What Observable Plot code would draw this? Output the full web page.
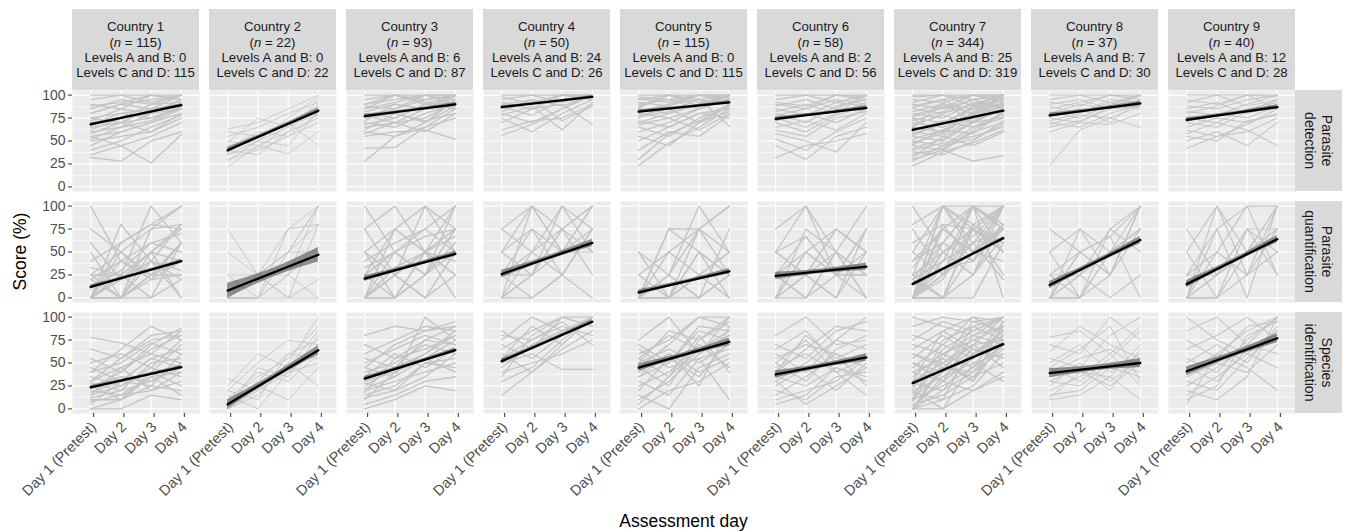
<!DOCTYPE html>
<html><head><meta charset="utf-8">
<script src="https://cdn.jsdelivr.net/npm/d3@7"></script>
<script src="https://cdn.jsdelivr.net/npm/@observablehq/plot@0.6"></script>
<style>
body{margin:0;background:#fff;font-family:"Liberation Sans",Arial,sans-serif;}
#chart svg{display:block;}
</style></head><body><div id="chart"></div>
<script>
const countries = ["Country 1","Country 2","Country 3","Country 4","Country 5","Country 6","Country 7","Country 8","Country 9"];
const nTotal = [115,22,93,50,115,58,344,37,40];
const levelsAB = [0,0,6,24,0,2,25,7,12];
const levelsCD = [115,22,87,26,115,56,319,30,28];
const skills = ["Parasite detection","Parasite quantification","Species identification"];
const skillLines = [["Parasite","detection"],["Parasite","quantification"],["Species","identification"]];
const days = ["Day 1 (Pretest)","Day 2","Day 3","Day 4"];
const yTicks = [0,25,50,75,100];
const yMinor = [12.5,37.5,62.5,87.5];

// fitted line (Day 1 and Day 4) and half-width of confidence band at ends, per skill x country
const fitStart = [
  [68,40,77,87,82,74,62,78,73],
  [12,8,21,26,6,24,15,14,15],
  [23.5,5,33,52,45,37.5,28,39,41]
];
const fitEnd = [
  [89,83,90,98,92,86,83,91,87],
  [40,47,48,60,29,34,65,63,64],
  [45.5,64,64,95,73,56,70.5,50,77]
];
const bandHalf = [
  [1.5,3,2,1.5,2,2.5,1,2.5,2.5],
  [2,8,3,4,3,4,1.5,4,4],
  [2,5,2.5,2.5,4,4,1.5,5,5]
];

// individual trajectories (Day1..Day4), per country
const detection = [
 [[100,100,100,100],[95,100,92,100],[90,85,100,95],[85,95,90,100],[80,90,95,100],[75,80,85,90],[72,85,80,95],[70,75,90,92],[68,80,75,88],[65,70,85,90],[62,75,80,85],[60,65,80,90],[58,70,75,85],[55,60,70,80],[52,65,72,88],[50,55,60,75],[45,60,70,85],[40,50,65,78],[35,45,55,70],[32,28,50,60],[55,45,26,57],[80,90,85,100],[88,92,100,95],[75,70,60,80]],
 [[22,45,60,75],[30,40,55,70],[35,50,65,90],[38,55,70,85],[40,35,60,95],[42,60,55,80],[45,50,75,98],[48,75,65,88],[50,45,36,60],[55,65,80,92],[60,55,70,45],[63,70,85,100],[28,50,45,82],[36,42,68,78]],
 [[100,100,100,100],[95,100,90,100],[90,95,100,95],[88,85,95,100],[85,100,92,95],[82,90,85,100],[80,75,90,92],[78,85,100,90],[75,80,70,95],[72,90,85,88],[70,65,80,90],[68,75,90,85],[65,70,75,92],[62,80,72,80],[60,55,65,85],[58,70,85,100],[55,60,62,52],[42,43,65,75],[28,55,70,88],[90,100,95,98],[85,92,100,100],[78,70,60,80]],
 [[100,100,100,100],[95,100,92,100],[92,85,100,95],[90,95,88,100],[88,78,95,100],[85,92,100,98],[80,70,85,100],[78,88,62,92],[75,60,80,95],[70,85,90,68],[62,72,75,90],[56,68,85,100],[98,90,100,100],[82,95,72,88]],
 [[100,100,100,100],[98,95,100,100],[95,100,92,98],[92,88,100,95],[90,95,85,100],[88,100,95,90],[85,80,90,100],[82,90,100,92],[80,75,85,95],[78,85,70,88],[75,90,95,100],[72,65,80,85],[70,80,90,100],[68,75,62,80],[65,55,75,90],[60,70,85,95],[55,45,70,82],[50,65,80,75],[40,60,55,78],[30,58,72,88],[23,48,65,85],[96,92,100,97],[86,100,88,100],[76,82,96,66]],
 [[100,100,100,100],[95,100,92,100],[90,85,100,95],[88,95,85,100],[85,78,92,88],[82,90,80,100],[80,70,88,95],[78,85,95,90],[75,65,80,92],[72,80,70,85],[70,60,78,88],[65,72,62,80],[62,55,75,82],[58,50,38,70],[52,40,60,75],[45,30,55,65],[32,45,50,58],[92,88,100,98]],
 [[100,100,100,100],[98,100,95,100],[95,92,100,100],[92,100,88,95],[90,85,95,100],[88,95,100,92],[85,80,90,100],[82,90,85,95],[80,75,92,88],[78,88,80,100],[75,70,85,90],[72,82,95,85],[70,65,78,92],[68,78,70,88],[65,60,82,95],[62,72,65,80],[60,55,75,90],[58,68,88,78],[55,50,70,85],[52,62,58,82],[50,45,65,75],[48,58,80,92],[45,40,60,70],[42,52,72,88],[40,48,55,65],[38,35,50,72],[35,42,62,80],[32,55,45,60],[30,40,28,34],[28,45,52,68],[23,38,48,62],[86,95,78,100],[76,86,100,96],[66,80,90,100],[56,70,85,98],[46,62,76,90],[64,92,70,76],[74,58,88,100]],
 [[100,100,100,100],[95,100,92,100],[92,88,100,95],[90,95,85,100],[88,80,95,92],[85,92,100,98],[82,75,90,100],[80,90,85,88],[78,85,70,95],[75,70,88,100],[72,80,92,85],[70,65,80,90],[68,78,75,65],[65,72,85,92],[60,70,68,80],[23,62,75,88]],
 [[100,100,100,100],[95,90,100,98],[92,100,88,95],[88,85,95,100],[85,92,80,90],[82,78,90,100],[80,88,100,85],[75,70,85,92],[72,80,75,88],[70,65,82,95],[65,75,70,80],[62,55,68,85],[58,70,62,45],[55,50,72,78],[50,60,45,70],[42,55,60,75]]
];
const quantification = [
 [[100,40,20,60],[75,50,25,60],[60,20,40,80],[50,0,25,40],[40,60,80,100],[33,25,50,75],[25,0,20,40],[25,50,75,80],[20,0,40,20],[20,40,60,50],[0,20,50,80],[0,0,25,25],[0,25,0,60],[0,0,75,100],[0,20,40,0],[0,50,20,25],[0,0,0,20],[0,60,80,75],[0,25,50,40],[0,40,25,60],[0,0,50,0],[10,30,60,70],[0,80,40,30],[25,25,100,60]],
 [[75,25,0,80],[50,25,50,100],[25,0,75,100],[0,25,50,80],[0,0,25,55],[0,25,0,20],[0,0,50,100],[25,25,25,0],[0,25,75,80],[0,0,0,0],[0,25,50,50],[0,0,25,100]],
 [[100,50,25,75],[75,100,50,100],[75,25,0,50],[50,75,100,75],[50,25,50,25],[50,0,25,60],[40,60,75,100],[33,50,25,75],[25,50,75,50],[25,0,50,75],[25,75,50,25],[0,25,50,75],[0,25,100,50],[0,50,25,100],[0,0,25,50],[0,25,0,25],[0,75,50,40],[0,0,50,67],[25,50,67,75],[0,33,50,0]],
 [[75,100,50,100],[75,50,25,75],[50,100,75,25],[50,25,75,100],[25,50,100,75],[25,75,50,50],[25,0,25,75],[0,25,50,100],[0,50,75,50],[0,0,25,75],[0,25,75,100],[50,75,25,0],[0,100,50,75],[25,25,100,50]],
 [[50,25,0,25],[50,0,25,50],[25,50,75,25],[25,0,50,0],[0,25,100,50],[0,0,75,100],[0,75,50,25],[0,25,0,75],[0,0,25,50],[0,50,25,0],[0,0,0,25],[0,25,75,100],[0,75,75,50],[0,0,50,25]],
 [[50,100,25,75],[75,100,50,25],[50,25,75,50],[25,67,25,0],[25,0,50,100],[0,50,75,50],[0,25,0,75],[25,50,25,25],[0,0,50,25],[50,25,0,50],[0,75,50,0],[25,25,75,50],[0,50,25,25],[25,0,25,75],[0,25,50,0],[50,67,25,50]],
 [[100,50,75,100],[80,100,60,75],[75,25,100,80],[60,80,40,100],[50,100,75,50],[50,25,60,100],[40,60,100,75],[33,75,50,80],[25,100,80,60],[25,50,25,100],[25,0,75,50],[20,60,40,80],[20,40,100,75],[0,25,50,100],[0,50,75,60],[0,75,100,80],[0,100,50,40],[0,25,80,100],[0,0,50,75],[0,40,60,20],[0,50,25,67],[0,20,75,100],[0,60,100,50],[0,0,25,80],[0,80,75,25],[0,25,100,0],[0,0,0,60],[0,50,67,100],[0,33,40,75],[40,75,50,100],[0,100,100,100],[20,0,80,50]],
 [[75,50,25,100],[50,75,25,100],[50,0,50,75],[25,50,67,100],[25,0,25,75],[0,75,50,100],[0,25,75,50],[0,50,25,100],[0,0,50,75],[0,25,0,25],[0,0,75,100],[0,50,67,0],[25,25,50,75]],
 [[75,25,50,100],[50,100,25,75],[25,75,100,100],[50,0,75,75],[0,25,50,100],[0,50,100,25],[0,75,0,100],[0,0,50,75],[25,50,25,100],[0,25,75,50],[0,100,50,75],[0,0,25,50],[25,25,75,25]]
];
const species = [
 [[78,72,60,85],[65,55,75,80],[55,40,70,88],[50,60,45,75],[45,30,55,65],[40,50,72,60],[35,25,40,70],[30,45,60,50],[28,20,50,55],[25,35,30,45],[22,40,65,80],[20,15,35,40],[18,30,25,60],[15,25,45,35],[12,20,30,50],[10,10,40,25],[8,15,20,30],[5,30,55,45],[0,10,25,20],[0,0,15,10],[30,55,80,85],[15,45,20,40],[40,65,90,75],[25,10,35,15]],
 [[33,20,50,100],[25,60,45,85],[20,50,75,70],[15,0,40,65],[10,35,55,90],[5,25,10,45],[0,30,60,55],[0,15,50,25],[0,45,35,80],[20,10,60,75],[0,20,40,50],[10,40,30,60]],
 [[80,90,85,95],[70,55,75,90],[60,75,90,85],[55,45,60,80],[50,65,80,70],[45,35,55,75],[40,50,70,60],[35,60,45,65],[30,40,60,85],[28,20,50,55],[25,45,75,70],[20,30,40,50],[18,55,65,80],[15,25,50,45],[12,20,35,60],[10,40,55,40],[5,15,30,35],[22,35,100,75],[45,70,85,90],[0,10,25,20]],
 [[85,65,100,100],[75,100,85,95],[70,55,80,100],[65,85,100,90],[60,40,70,100],[55,75,90,80],[50,60,43,43],[45,70,85,100],[40,50,60,75],[35,80,100,90],[30,45,75,100],[15,40,65,85],[55,90,70,100],[80,75,95,70]],
 [[75,100,60,100],[70,50,85,75],[60,75,100,90],[55,35,65,80],[50,65,50,70],[45,25,75,100],[40,60,40,55],[35,50,90,85],[30,15,55,65],[25,40,70,45],[20,55,35,75],[15,0,45,60],[10,30,60,80],[0,20,30,50],[50,85,75,95],[65,45,55,10],[45,70,100,100],[35,60,25,90],[5,35,80,40],[55,80,65,85]],
 [[80,100,70,75],[70,55,85,95],[65,85,50,60],[60,40,75,100],[55,70,60,45],[50,30,65,80],[45,60,40,55],[40,80,55,70],[35,25,45,30],[30,50,75,65],[25,45,20,50],[20,10,35,40],[15,35,60,25],[10,20,30,55],[5,15,45,35],[40,65,90,85],[30,5,25,45],[50,75,40,15]],
 [[100,90,80,100],[90,100,95,85],[80,70,100,95],[75,95,85,100],[70,60,75,90],[65,85,100,80],[60,50,70,100],[55,80,60,85],[50,40,90,75],[45,70,55,95],[40,30,80,70],[35,60,45,90],[30,50,75,65],[28,20,60,85],[25,45,40,80],[22,65,85,100],[20,35,50,60],[18,10,70,75],[15,55,30,95],[12,40,65,55],[10,25,45,70],[8,60,80,90],[5,15,35,50],[3,30,55,85],[0,20,40,65],[0,45,70,45],[0,10,25,60],[0,35,60,80],[0,0,20,40],[0,50,30,75],[10,75,90,100],[30,85,65,55],[50,30,20,35],[40,55,95,100],[20,0,50,30],[60,45,35,70]],
 [[78,85,60,90],[70,60,100,75],[62,90,70,55],[55,45,80,100],[50,70,40,60],[45,30,55,85],[40,55,65,45],[35,40,35,70],[30,25,50,40],[25,50,30,55],[20,35,60,25],[15,20,45,35],[12,40,25,50],[10,15,35,10],[45,65,90,30],[30,45,20,65]],
 [[100,75,60,85],[85,100,70,100],[75,55,90,95],[65,80,100,75],[55,40,75,100],[50,70,50,90],[45,30,65,80],[40,60,85,100],[35,50,40,70],[30,20,55,85],[25,45,70,60],[20,10,35,100],[15,35,60,45],[10,25,80,95],[5,60,45,20]]
];

const trajectories = [detection, quantification, species];
const rows = [];
trajectories.forEach((bySkill, s) => bySkill.forEach((lines, c) => {
  // each drawn line stands for n / (lines drawn) participants: slightly thicker strokes where the panel is denser
  const w = Math.max(0.8, Math.min(1.35, 0.65 * Math.sqrt(nTotal[c] / lines.length)));
  lines.forEach((v, k) =>
    v.forEach((score, d) => rows.push({skill: skills[s], country: countries[c], id: s + "-" + c + "-" + k, day: d + 1, score, w})));
}));

const fitRows = [], bandRows = [];
skills.forEach((sk, s) => countries.forEach((ct, c) => {
  const a = fitStart[s][c], b = fitEnd[s][c], h = bandHalf[s][c];
  [1, 4].forEach(d => fitRows.push({skill: sk, country: ct, key: s + "-" + c, day: d, value: a + (b - a) * (d - 1) / 3}));
  d3.range(0, 3.0001, 0.25).forEach(t => {
    const m = a + (b - a) * t / 3;
    const w = h * Math.sqrt((0.25 + (t - 1.5) ** 2 / 5) / 0.7);
    bandRows.push({skill: sk, country: ct, key: s + "-" + c, day: t + 1, lo: m - w, hi: m + w});
  });
}));

const FONT = "Liberation Sans, Arial, Helvetica, sans-serif";
const W = 1348, H = 531;
const mL = 71, mR = 52, mT = 89, mB = 117;

const chart = Plot.plot({
  width: W, height: H,
  marginLeft: mL, marginRight: mR, marginTop: mT, marginBottom: mB,
  style: {fontFamily: FONT, background: "white", color: "#4d4d4d"},
  fx: {domain: countries, axis: null, paddingInner: 0.073, paddingOuter: 0},
  fy: {domain: skills, axis: null, paddingInner: 0.0893, paddingOuter: 0},
  x: {type: "linear", domain: [0.4, 4.6]},
  y: {domain: [-5, 105]},
  marks: [
    Plot.frame({fill: "#EBEBEB", stroke: "none"}),
    Plot.gridY(yMinor, {stroke: "white", strokeOpacity: 1, strokeWidth: 0.6}),
    Plot.gridY(yTicks, {stroke: "white", strokeOpacity: 1, strokeWidth: 1.2}),
    Plot.gridX([1, 2, 3, 4], {stroke: "white", strokeOpacity: 1, strokeWidth: 1.2}),
    Plot.line(rows, {x: "day", y: "score", z: "id", fx: "country", fy: "skill", stroke: "#c4c4c4", strokeWidth: d => d.w}),
    Plot.areaY(bandRows, {x: "day", y1: "lo", y2: "hi", z: "key", fx: "country", fy: "skill", fill: "#666", fillOpacity: 0.72}),
    Plot.line(fitRows, {x: "day", y: "value", z: "key", fx: "country", fy: "skill", stroke: "black", strokeWidth: 2.3}),
    Plot.axisY({ticks: yTicks, tickSize: 4, tickPadding: 3, fontSize: 14, label: null, stroke: "#333"}),
    Plot.axisX({ticks: [1, 2, 3, 4], tickFormat: i => days[i - 1], tickRotate: -45, tickSize: 4, tickPadding: 7, dx: 3, fontSize: 14.5, label: null, stroke: "#333"})
  ]
});

document.getElementById("chart").appendChild(chart);

const svg = d3.select(chart);
const fx = chart.scale("fx"), fy = chart.scale("fy");
const bw = fx.bandwidth, bh = fy.bandwidth;
const stripH = 81, stripW = 47;
const topY = fy.apply(skills[0]);
const g = svg.append("g").attr("font-family", FONT);

countries.forEach((ct, c) => {
  const x0 = fx.apply(ct);
  g.append("rect").attr("x", x0).attr("y", topY - stripH).attr("width", bw).attr("height", stripH).attr("fill", "#D9D9D9");
  const lines = [null, null, "Levels A and B: " + levelsAB[c], "Levels C and D: " + levelsCD[c]];
  const offs = [17.1, 32.7, 48.3, 63.9];
  g.append("text").attr("x", x0 + bw / 2).attr("y", topY - stripH + offs[0]).attr("text-anchor", "middle")
    .attr("dominant-baseline", "central").attr("font-size", 13.2).attr("fill", "#1A1A1A").text(ct);
  const t1 = g.append("text").attr("x", x0 + bw / 2).attr("y", topY - stripH + offs[1]).attr("text-anchor", "middle")
    .attr("dominant-baseline", "central").attr("font-size", 13.2).attr("fill", "#1A1A1A");
  t1.append("tspan").text("(");
  t1.append("tspan").attr("font-style", "italic").text("n");
  t1.append("tspan").text(" = " + nTotal[c] + ")");
  [2, 3].forEach(i => g.append("text").attr("x", x0 + bw / 2).attr("y", topY - stripH + offs[i]).attr("text-anchor", "middle")
    .attr("dominant-baseline", "central").attr("font-size", 13.2).attr("fill", "#1A1A1A").text(lines[i]));
});

const rightX = fx.apply(countries[countries.length - 1]) + bw;
skills.forEach((sk, s) => {
  const y0 = fy.apply(sk);
  g.append("rect").attr("x", rightX).attr("y", y0).attr("width", stripW).attr("height", bh).attr("fill", "#D9D9D9");
  const cx = rightX + stripW / 2, cy = y0 + bh / 2;
  skillLines[s].forEach((ln, i) => {
    const lx = cx + (i === 0 ? 8.5 : -8.5);
    g.append("text").attr("transform", `translate(${lx},${cy}) rotate(90)`).attr("text-anchor", "middle")
      .attr("dominant-baseline", "central").attr("font-size", 14).attr("fill", "#1A1A1A").text(ln);
  });
});

const midY = (fy.apply(skills[0]) + fy.apply(skills[2]) + bh) / 2;
g.append("text").attr("transform", `translate(20,${midY}) rotate(-90)`).attr("text-anchor", "middle")
  .attr("dominant-baseline", "central").attr("font-size", 17.5).attr("fill", "black").text("Score (%)");
const midX = (fx.apply(countries[0]) + rightX) / 2;
g.append("text").attr("x", midX).attr("y", 521).attr("text-anchor", "middle")
  .attr("dominant-baseline", "central").attr("font-size", 17.5).attr("fill", "black").text("Assessment day");
</script></body></html>
